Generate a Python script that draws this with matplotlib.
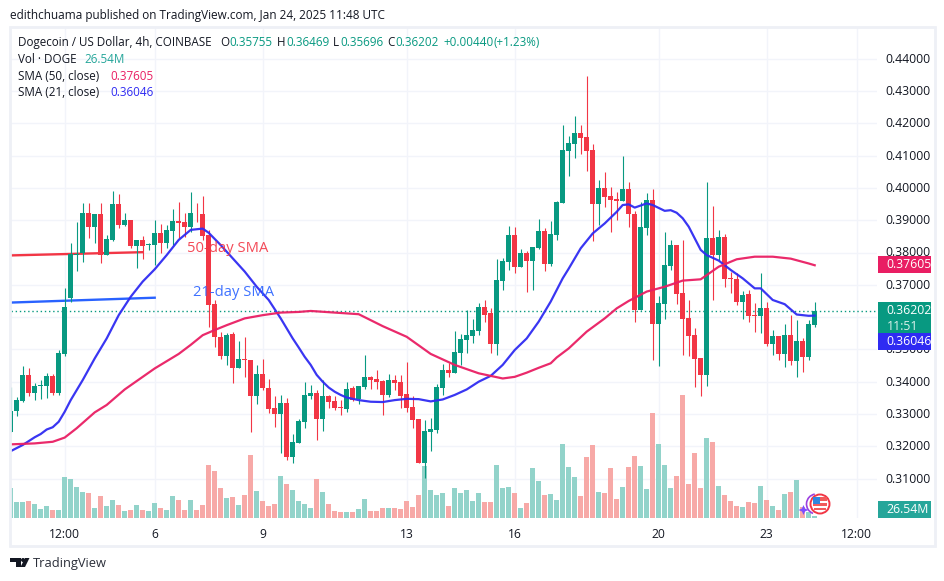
import matplotlib
matplotlib.use("Agg")
import matplotlib.pyplot as plt
from matplotlib.patches import Rectangle, Circle, Polygon, Arc
from matplotlib.transforms import ScaledTranslation

plt.rcParams['font.family'] = ['Open Sans', 'DejaVu Sans']

# price data (0.xxxx USD), one entry per 4h bar
opens = [.3245,.3309,.3341,.3421,.3366,.3388,.3388,.3418,.3366,.3487,.3660,.3792,.3797,.3921,.3880,.3919,.3792,.3839,.3950,.3885,
 .3900,.3820,.3839,.3823,.3823,.3859,.3830,.3867,.3897,.3894,.3880,.3922,.3919,.3854,.3640,.3537,.3480,.3548,.3443,.3470,
 .3467,.3357,.3424,.3382,.3320,.3300,.3333,.3168,.3211,.3276,.3356,.3364,.3284,.3356,.3340,.3322,.3315,.3379,.3345,.3383,
 .3414,.3408,.3402,.3359,.3405,.3399,.3362,.3322,.3284,.3148,.3244,.3250,.3380,.3436,.3427,.3489,.3529,.3541,.3557,.3631,
 .3613,.3517,.3712,.3770,.3854,.3755,.3798,.3774,.3814,.3866,.3764,.3854,.3953,.4114,.4136,.4170,.4157,.4117,.3950,.3999,
 .3975,.3966,.3959,.3996,.3919,.3622,.3876,.3962,.3579,.3640,.3758,.3823,.3675,.3597,.3544,.3473,.3421,.3845,.3792,.3848,
 .3721,.3718,.3647,.3671,.3606,.3603,.3628,.3517,.3541,.3486,.3544,.3464,.3526,.3476,.35755]
closes = [.3309,.3343,.3421,.3364,.3387,.3390,.3418,.3366,.3488,.3632,.3795,.3795,.3921,.3880,.3918,.3792,.3842,.3950,.3885,.3900,
 .3820,.3839,.3820,.3824,.3859,.3830,.3870,.3897,.3892,.3880,.3921,.3921,.3852,.3637,.3539,.3480,.3544,.3443,.3469,.3468,
 .3357,.3424,.3381,.3315,.3300,.3333,.3168,.3212,.3278,.3359,.3364,.3284,.3356,.3337,.3318,.3320,.3377,.3343,.3387,.3414,
 .3405,.3399,.3359,.3405,.3396,.3356,.3318,.3281,.3148,.3247,.3253,.3383,.3436,.3427,.3492,.3532,.3544,.3560,.3631,.3606,
 .3517,.3715,.3774,.3854,.3755,.3798,.3774,.3817,.3866,.3764,.3857,.3956,.4117,.4139,.4170,.4154,.4114,.3950,.3999,.3972,
 .3962,.3959,.3996,.3919,.3622,.3879,.3962,.3579,.3644,.3761,.3823,.3671,.3594,.3541,.3470,.3421,.3845,.3792,.3848,.3718,
 .3719,.3647,.3668,.3603,.3603,.3628,.3517,.3541,.3486,.3544,.3464,.3526,.3476,.3579,.36202]
highs = [.3385,.3352,.3448,.3441,.3397,.3405,.3428,.3424,.3498,.3689,.3828,.3893,.3954,.3952,.3918,.3952,.3854,.3990,.3981,.3921,
 .3900,.3839,.3851,.3828,.3900,.3888,.3885,.3934,.3957,.3921,.3987,.3952,.3975,.3870,.3652,.3555,.3550,.3555,.3526,.3537,
 .3467,.3452,.3470,.3407,.3356,.3359,.3351,.3238,.3286,.3398,.3389,.3374,.3405,.3359,.3356,.3343,.3399,.3387,.3387,.3483,
 .3418,.3436,.3405,.3424,.3421,.3421,.3461,.3356,.3284,.3281,.3288,.3393,.3455,.3458,.3557,.3548,.3622,.3594,.3644,.3653,
 .3628,.3780,.3783,.3882,.3879,.3811,.3805,.3817,.3904,.3876,.3897,.3959,.4195,.4161,.4222,.4195,.4346,.4136,.4024,.4049,
 .4003,.3987,.4099,.4018,.3928,.3956,.3984,.3996,.3665,.3863,.3839,.3823,.3839,.3653,.3566,.3473,.4018,.3944,.3870,.3857,
 .3740,.3736,.3681,.3684,.3644,.3736,.3647,.3560,.3541,.3579,.3606,.3591,.3535,.3591,.36469]
lows = [.3245,.3294,.3336,.3356,.3343,.3346,.3348,.3359,.3359,.3480,.3648,.3744,.3772,.3846,.3830,.3768,.3792,.3837,.3875,.3882,
 .3813,.3751,.3779,.3808,.3761,.3797,.3813,.3823,.3844,.3849,.3864,.3895,.3839,.3570,.3508,.3470,.3452,.3395,.3443,.3415,
 .3245,.3331,.3374,.3302,.3261,.3178,.3157,.3147,.3209,.3258,.3346,.3219,.3248,.3318,.3312,.3297,.3306,.3340,.3331,.3377,
 .3377,.3377,.3297,.3353,.3374,.3318,.3306,.3257,.3148,.3102,.3185,.3241,.3359,.3414,.3427,.3452,.3489,.3520,.3544,.3585,
 .3489,.3483,.3684,.3746,.3736,.3755,.3678,.3684,.3811,.3743,.3758,.3839,.3953,.4037,.4092,.4105,.4052,.3836,.3885,.3941,
 .3863,.3901,.3959,.3879,.3585,.3622,.3854,.3467,.3449,.3594,.3746,.3640,.3483,.3479,.3383,.3356,.3387,.3653,.3777,.3693,
 .3675,.3637,.3594,.3585,.3554,.3551,.3510,.3483,.3467,.3445,.3452,.3414,.3430,.3467,.35696]
# volume in millions of DOGE
volumes = [400,207,207,220,180,114,154,101,101,537,510,405,339,326,128,286,154,233,167,88,
 101,167,101,88,194,128,101,286,233,101,233,101,167,695,616,392,260,273,167,299,827,352,220,154,180,550,444,365,
 220,180,128,510,339,180,88,75,75,75,114,246,88,88,128,128,128,114,220,141,299,682,365,299,326,154,392,326,365,220,326,207,207,695,392,405,326,128,194,656,484,299,312,233,
 972,669,537,286,801,959,339,326,656,246,405,669,814,682,378,1382,972,695,392,550,1619,444,854,392,1052,999,418,299,220,154,141,207,194,418,233,154,101,312,339,497,145,79,26.54]
# moving averages: bar index, value
sma21_idx = [0,2,4,5,6,7,8,9,10,12,14,16,18,20,22,24,26,28,30,32,33,35,37,39,41,43,45,47,48,49,50,51,52,53,54,55,56,58,60,62,64,66,68,70,72,74,76,78,80,82,84,86,88,90,92,93,95,97,99,101,102,103,104,106,107,109,110,111,112,113,114,115,116,118,120,122,124,125,127,129,131,133,134]
sma21_val = [.3185,.3204,.3228,.3238,.3252,.3259,.3276,.3307,.3343,.3405,.3472,.3534,.3606,.3663,.3710,.3748,.3792,.3839,.3870,.3874,.3861,.3823,.3782,.3741,.3694,.3653,.3596,.3534,.3506,.3477,.3452,.3421,.3400,.3382,.3369,.3359,.3351,.3343,.3338,.3337,.3343,.3347,.3346,.3339,.3345,.3359,.3376,.3400,.3418,.3452,.3498,.3534,.3586,.3648,.3720,.3750,.3813,.3859,.3890,.3926,.3947,.3949,.3939,.3952,.3947,.3929,.3931,.3923,.3906,.3880,.3844,.3808,.3792,.3775,.3746,.3720,.3689,.3689,.3653,.3640,.3608,.3604,.36046]
sma50_idx = [0,4,7,9,11,14,16,19,22,24,28,30,32,34,36,39,42,45,48,50,58,62,66,70,74,78,82,84,86,88,90,91,93,96,99,101,103,106,109,112,115,118,121,124,127,130,133,134]
sma50_val = [.3206,.3209,.3214,.3227,.3256,.3305,.3328,.3376,.3415,.3441,.3486,.3514,.3544,.3560,.3575,.3596,.3606,.3614,.3616,.3619,.3609,.3572,.3539,.3486,.3452,.3426,.3410,.3415,.3428,.3443,.3457,.3475,.3503,.3555,.3596,.3627,.3650,.3679,.3694,.3713,.3717,.3756,.3779,.3787,.3787,.3781,.3766,.37605]
price_ticks = [.31,.32,.33,.34,.35,.36,.37,.38,.39,.40,.41,.42,.43,.44]
time_idx = [9,24,42,66,84,108,126,141]
time_labels = ['12:00','6','9','13','16','20','23','12:00']
last_close = .36202
# drawn trend lines labelled on the chart: (index, price) pairs
line50_idx, line50_val = [0,22], [.3791,.3801]
line21_idx, line21_val = [0,24], [.3645,.3660]

W, H = 945, 581
GREEN, RED = '#089981', '#F23645'
VGREEN, VRED = '#92D3CA', '#F7A9A7'
PINK, BLUE = '#E91E63', '#2F2BF2'
INK = '#131722'
GRID = '#F2F4FA'

fig = plt.figure(figsize=(W/100, H/100), dpi=100, facecolor='white')
L, R, T, B = 11.0, 877.0, 27.0, 518.0
pos = [L/W, 1-B/H, (R-L)/W, (B-T)/H]
xlim = ((L-10.7)/6, (R-10.7)/6)
ylim = (.34-(B-381.7)/3230, .34+(381.7-T)/3230)

ax_bg = fig.add_axes(pos, zorder=0)
ax_v = fig.add_axes(pos, zorder=1)
ax = fig.add_axes(pos, zorder=2)
for a in (ax_bg, ax_v, ax):
    a.set_xlim(*xlim)
    a.patch.set_alpha(0)
    for s in a.spines.values():
        s.set_visible(False)
ax_bg.patch.set_facecolor('white'); ax_bg.patch.set_alpha(1)
ax.set_ylim(*ylim); ax_bg.set_ylim(*ylim)
ax.set_xticks([]); ax.set_yticks([])
ax_v.set_xticks([]); ax_v.set_yticks([])
ax_v.set_ylim(-1.5, (B-T)*13.2)

ax_bg.yaxis.tick_right()
# the 0.36000 label sits entirely under the last-price tag, so it is left blank
ax_bg.set_yticks(price_ticks, ['' if p == .36 else f'{p:.5f}' for p in price_ticks], fontsize=8.8, color=INK)
ax_bg.set_xticks(time_idx, time_labels, fontsize=8.7, color=INK)
ax_bg.tick_params(axis='both', length=0)
ax_bg.tick_params(axis='y', pad=6.1)
ax_bg.tick_params(axis='x', pad=7)
ax_bg.grid(True, color=GRID, lw=1.0)
ax_bg.set_axisbelow(True)
nudge = ScaledTranslation(0, 1/100, fig.dpi_scale_trans)
for lab in ax_bg.get_yticklabels():
    lab.set_transform(lab.get_transform() + nudge)

idx = list(range(len(closes)))
up = [c >= o for o, c in zip(opens, closes)]
ax_v.bar(idx, volumes, width=0.83, color=[VGREEN if u else VRED for u in up], linewidth=0)

wicks = ax.vlines(idx, lows, highs, colors=[GREEN if u else RED for u in up], lw=0.8, zorder=3)
wicks.set_snap(True)
ax.bar(idx, [max(abs(c-o), .00025) for o, c in zip(opens, closes)],
       bottom=[min(o, c) for o, c in zip(opens, closes)], width=0.83,
       color=[GREEN if u else RED for u in up], linewidth=0, zorder=4)

ax.axhline(last_close, color=GREEN, lw=1, ls=(0, (1, 2)), zorder=2)
ax.plot(sma21_idx, sma21_val, color=BLUE, lw=1.6, alpha=.95, zorder=5, solid_joinstyle='round')
ax.plot(sma50_idx, sma50_val, color=PINK, lw=1.6, alpha=.95, zorder=5, solid_joinstyle='round')
ax.plot(line50_idx, line50_val, color=RED, lw=1.7, zorder=2)
ax.plot(line21_idx, line21_val, color='#2962FF', lw=1.7, zorder=2)

# overlay in pixel coordinates for chart chrome
ov = fig.add_axes([0, 0, 1, 1], zorder=5)
ov.set_xlim(0, W); ov.set_ylim(H, 0); ov.axis('off')

ov.text(187, 248, '50-day SMA', color=RED, alpha=.9, fontsize=10.6, va='center')
ov.text(193, 292, '21-day SMA', color='#2962FF', alpha=.9, fontsize=10.6, va='center')

# frame
ov.add_patch(Rectangle((9.5, 26.5), 925, 519, fill=False, ec='#EEF0F6', lw=2))

# price-scale tags; they stack to stay legible, as on the original scale
def tag(y0, y1, text, color, sub=None):
    ov.add_patch(Rectangle((878, y0), 53, y1-y0, fc=color, ec='none'))
    ov.text(886, y0+8.5, text, color='white', fontsize=8.8, va='center')
    if sub:
        ov.text(887, y0+24, sub, color='#D8F0EA', fontsize=8.8, va='center')
tag(256, 273, '0.37605', PINK)
tag(302, 333, '0.36202', GREEN, sub='11:51')
tag(333, 350, '0.36046', BLUE)
tag(501, 518, '26.54M', '#26A69A')

# header text
ov.text(10, 15, 'edithchuama published on TradingView.com, Jan 24, 2025 11:48 UTC', color=INK, fontsize=8.45, va='center')
TEAL = '#089981'
for x, s, c in [(18, 'Dogecoin / US Dollar, 4h, COINBASE', INK), (220, 'O', INK), (229, '0.35755', TEAL),
                (277, 'H', INK), (286, '0.36469', TEAL), (333, 'L', INK), (340, '0.35696', TEAL),
                (387, 'C', INK), (395, '0.36202', TEAL), (443, '+0.00440', TEAL), (493, '(+1.23%)', TEAL)]:
    ov.text(x, 42.5, s, color=c, fontsize=8.4, va='center')
for y, a, x2, b, c in [(59.5, 'Vol · DOGE', 84, '26.54M', '#26A69A'),
                       (76.5, 'SMA (50, close)', 110, '0.37605', PINK),
                       (93, 'SMA (21, close)', 110, '0.36046', BLUE)]:
    ov.text(18, y, a, color=INK, fontsize=8.4, va='center')
    ov.text(x2, y, b, color=c, fontsize=8.4, va='center')

# TradingView logo
ov.add_patch(Polygon([(10.3, 558), (20.5, 558), (20.5, 567), (15.5, 567), (15.5, 562), (10.3, 562)], fc=INK, ec='none'))
ov.add_patch(Circle((23, 560), 2, fc=INK, ec='none'))
ov.add_patch(Polygon([(25, 558), (29.5, 558), (25, 567), (20.5, 567)], fc=INK, ec='none'))
ov.text(33, 564, 'TradingView', color='#2A2E39', fontsize=9.3, va='center')

# news/flag badge
ov.add_patch(Arc((816.5, 504), 20, 20, theta1=110, theta2=260, color='#9C3FE0', lw=1.2))
ov.add_patch(Polygon([(803.5, 505), (805, 508.5), (808.5, 510), (805, 511.5), (803.5, 515),
                      (802, 511.5), (798.5, 510), (802, 508.5)], fc='#7C4DFF', ec='none'))
ov.add_patch(Circle((820, 504), 9.5, fc='white', ec='#F23645', lw=1.4))
ov.add_patch(Rectangle((813, 497), 14, 4, fc='#F15B5B', ec='none'))
ov.add_patch(Rectangle((813, 503), 14, 3, fc='#F15B5B', ec='none'))
ov.add_patch(Rectangle((814, 508), 12, 2, fc='#F15B5B', ec='none'))
ov.add_patch(Rectangle((813, 497), 7, 7, fc='#2E86DE', ec='none'))

assert len(opens) == len(closes) == len(highs) == len(lows) == len(volumes), (len(opens), len(closes), len(highs), len(lows), len(volumes))
fig.savefig('out.png', dpi=100)
